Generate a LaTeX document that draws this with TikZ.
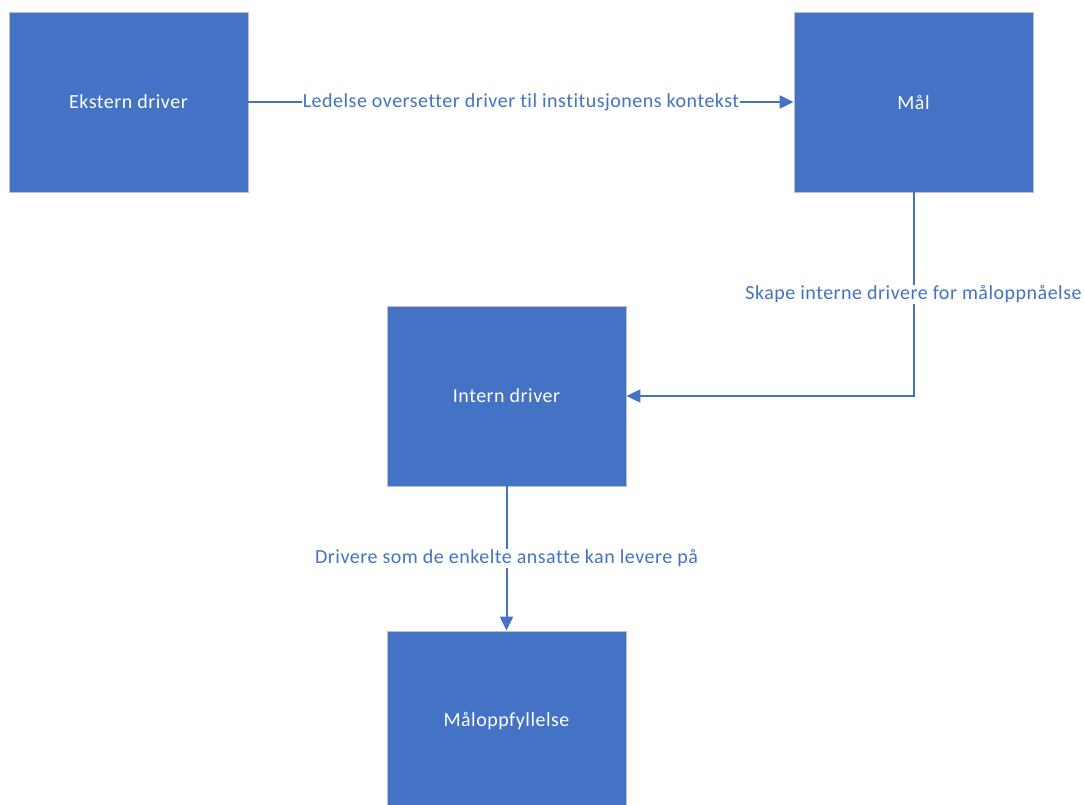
\documentclass[tikz,border=0pt]{standalone}
\usepackage{fontspec}
\setmainfont[Ligatures=NoCommon, LetterSpace=2.5]{Carlito}
\usetikzlibrary{arrows.meta}
\definecolor{boxblue}{HTML}{4472C4}
\definecolor{boxedge}{HTML}{BFBFBF}
\tikzset{
  box/.style={rectangle, draw=boxedge, fill=boxblue, line width=0.8pt,
    minimum width=239pt, minimum height=180pt, text=white, font=\fontsize{20}{24}\selectfont},
  lbl/.style={fill=white, text=boxblue, inner sep=1pt, font=\fontsize{20}{24}\selectfont},
  conn/.style={draw=boxblue, line width=2pt, -{Triangle[length=14pt,width=13pt]}}
}
\begin{document}
\begin{tikzpicture}[x=1pt,y=-1pt]
        \useasboundingbox (0,0) rectangle (1084,805);
        % Define the four boxes
        \node at (128.5, 102) (ekstern) [box] {Ekstern driver};
        \node at (913.5, 102) (maal) [box] {Mål};
        \node at (506.5, 396) (intern) [box] {Intern driver};
        \node at (506.5, 721) (oppfyll) [box] {Måloppfyllelse};
        
        % Draw connectors
        \draw[conn] (ekstern) -- node[lbl] {Ledelse oversetter driver til institusjonens kontekst} (maal);
        \draw[conn] (maal.south) |- node[lbl, pos=0.25] {Skape interne drivere for måloppnåelse} (intern.east);
        \draw[conn] (intern) -- node[lbl] {Drivere som de enkelte ansatte kan levere på} (oppfyll);
    \end{tikzpicture}
\end{document}
